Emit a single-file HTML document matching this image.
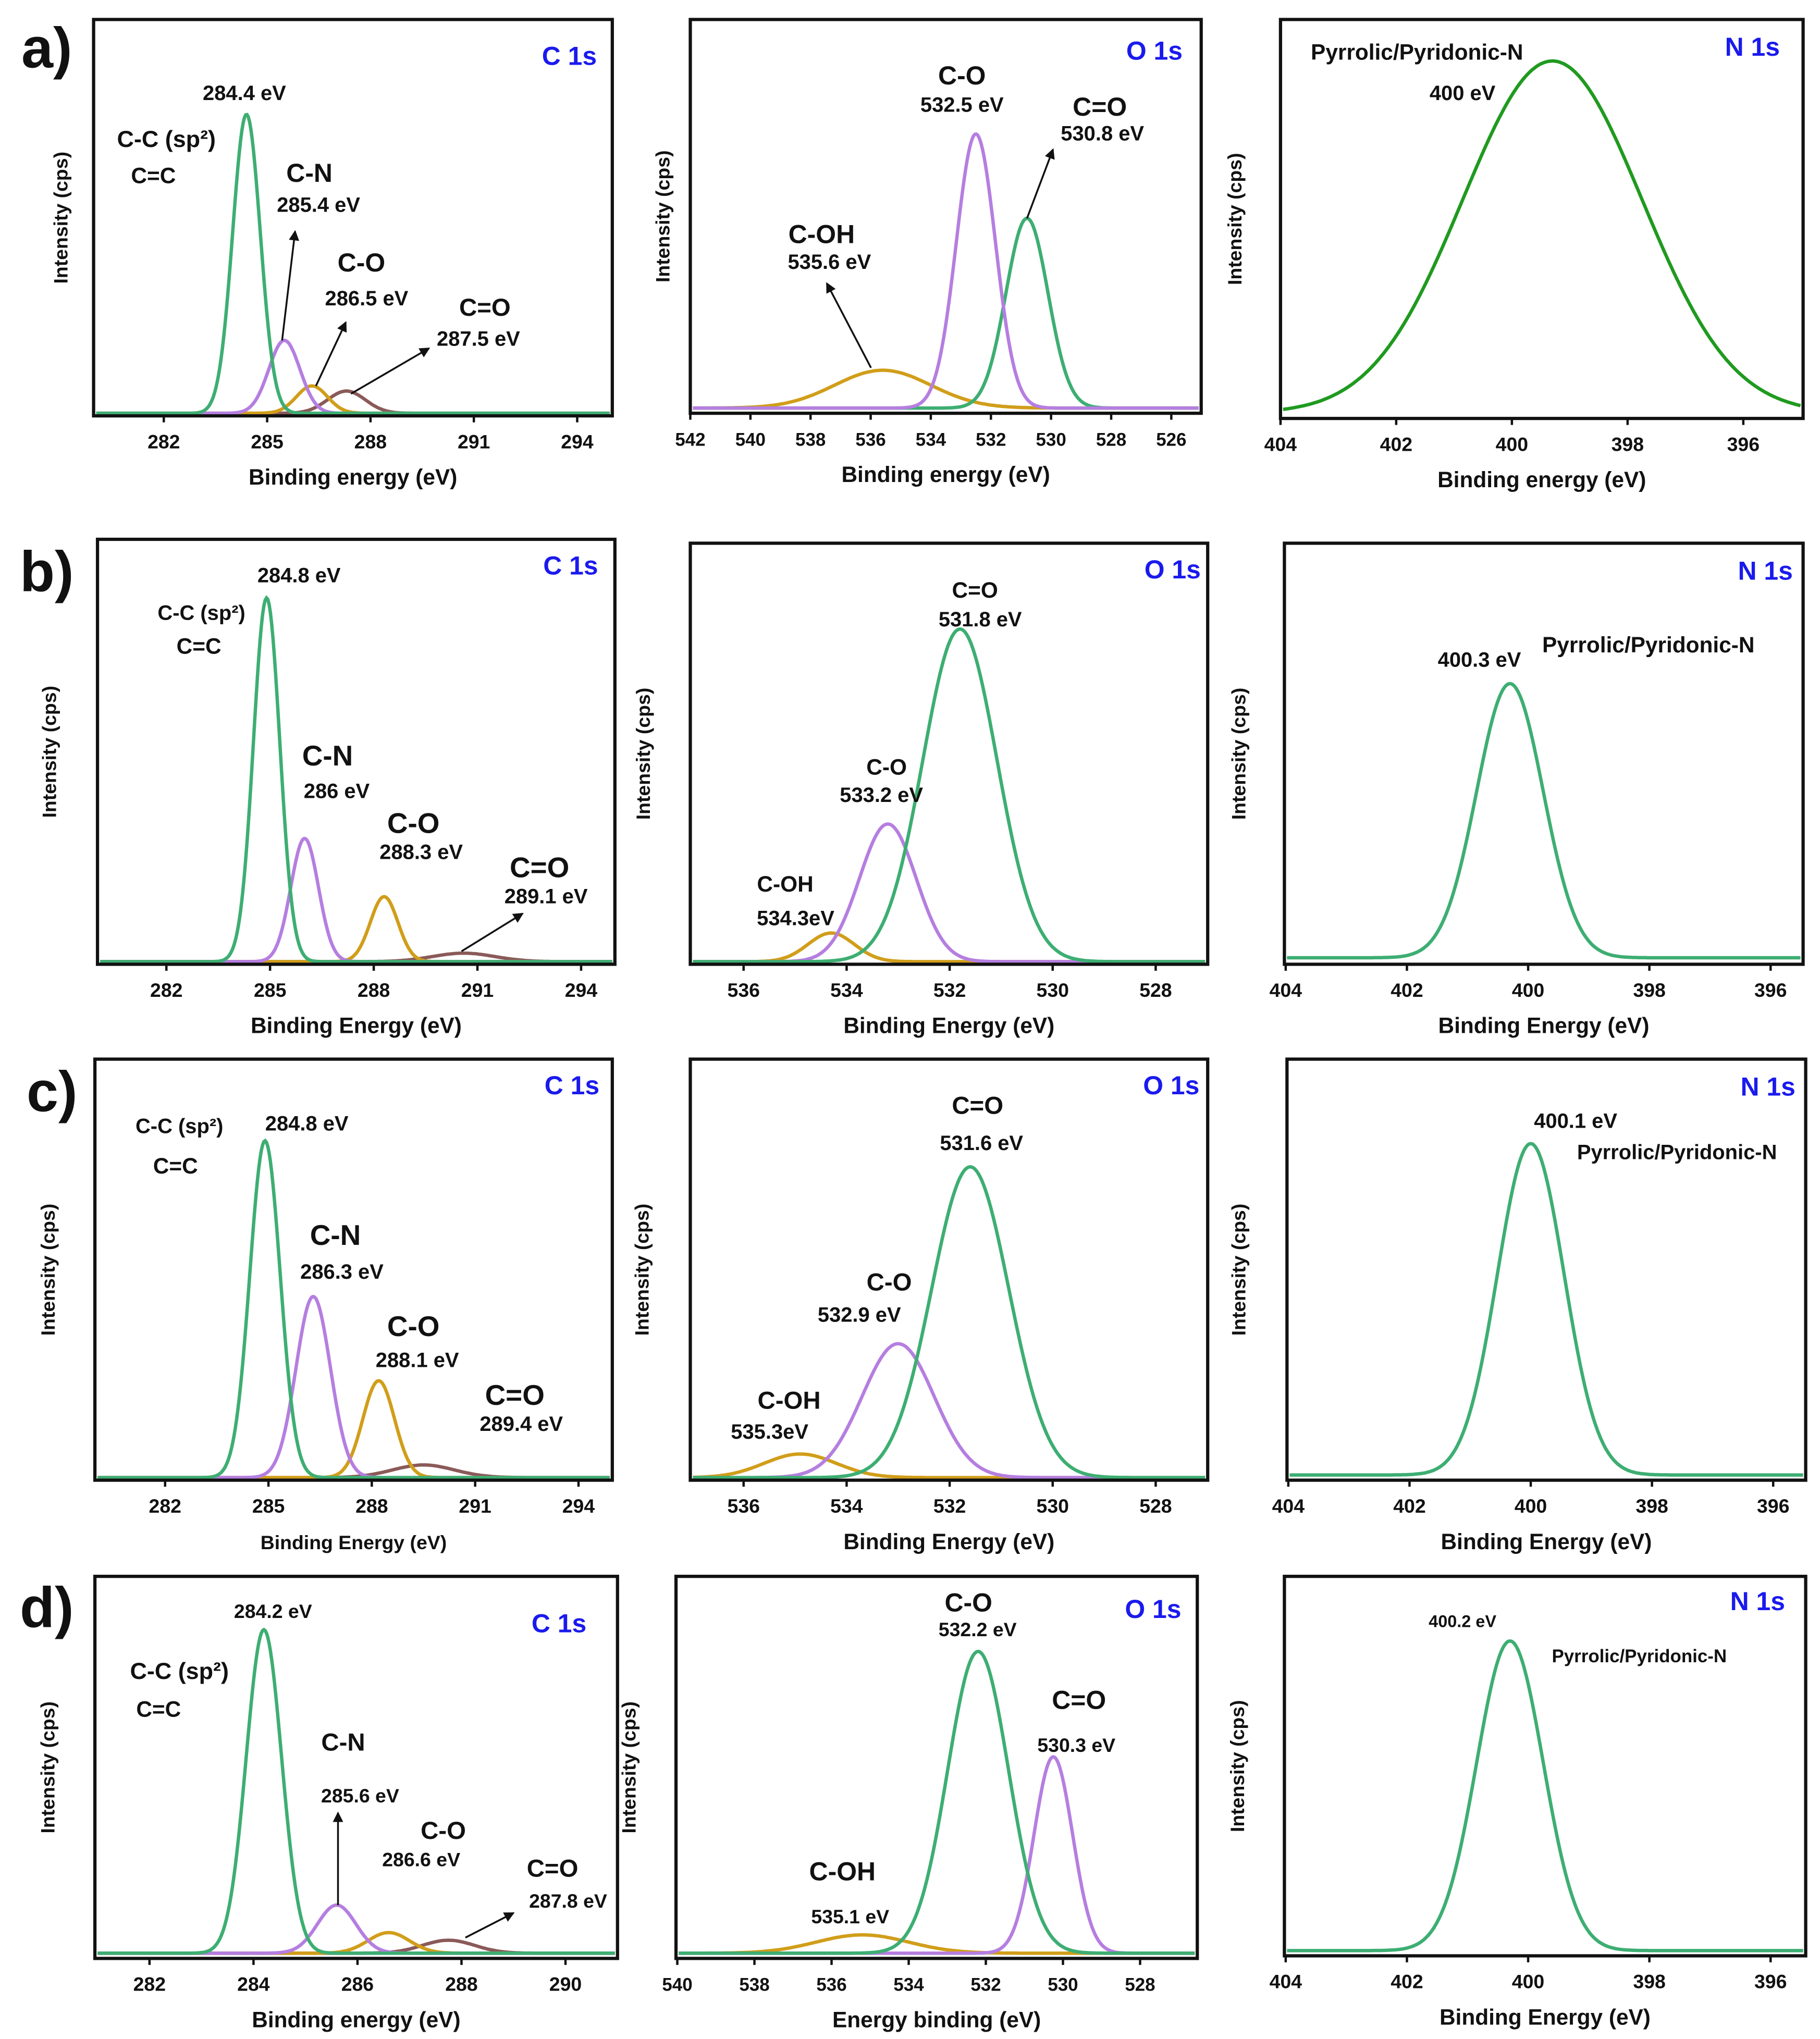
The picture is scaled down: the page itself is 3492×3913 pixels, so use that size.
<!DOCTYPE html>
<html><head><meta charset="utf-8"><style>
html,body{margin:0;padding:0;background:#fff}
svg{display:block}
text{font-family:"Liberation Sans",sans-serif;font-weight:bold}
</style></head><body>
<svg id="fig" width="3492" height="3913" viewBox="0 0 1400 1569" preserveAspectRatio="none" xmlns="http://www.w3.org/2000/svg"></svg>
<script>
// ---- data: peak centers (eV), amplitudes (fraction of plot height), widths (sigma, eV)
const a1Centers=[284.4,285.5,286.3,287.3], a1Amps=[0.754,0.184,0.069,0.056], a1Sigmas=[0.40,0.45,0.45,0.55];
const a2Centers=[532.5,530.8,535.6], a2Amps=[0.696,0.482,0.096], a2Sigmas=[0.65,0.70,1.6];
const a3Centers=[399.3], a3Amps=[0.883], a3Sigmas=[1.55];
const b1Centers=[284.9,286.0,288.3,290.6], b1Amps=[0.856,0.29,0.153,0.02], b1Sigmas=[0.38,0.40,0.40,0.9];
const b2Centers=[531.8,533.2,534.3], b2Amps=[0.79,0.327,0.068], b2Sigmas=[0.72,0.55,0.45];
const b3Centers=[400.3], b3Amps=[0.651], b3Sigmas=[0.55];
const c1Centers=[284.9,286.3,288.2,289.5], c1Amps=[0.80,0.43,0.23,0.03], c1Sigmas=[0.44,0.50,0.46,0.9];
const c2Centers=[531.6,533.0,534.9], c2Amps=[0.738,0.318,0.056], c2Sigmas=[0.75,0.70,0.70];
const c3Centers=[400.0], c3Amps=[0.787], c3Sigmas=[0.55];
const d1Centers=[284.2,285.6,286.6,287.75], d1Amps=[0.847,0.126,0.054,0.034], d1Sigmas=[0.34,0.37,0.40,0.5];
const d2Centers=[532.2,530.25,535.2], d2Amps=[0.79,0.514,0.048], d2Sigmas=[0.79,0.50,1.2];
const d3Centers=[400.3], d3Amps=[0.816], d3Sigmas=[0.55];
const cTicks1=[282,285,288,291,294], oTicksA=[542,540,538,536,534,532,530,528,526], oTicksBC=[536,534,532,530,528];
const nTicks=[404,402,400,398,396], cTicksD=[282,284,286,288,290], oTicksD=[540,538,536,534,532,530,528];

const G='#3dae72',P='#b57ee0',O='#d19e1a',B='#8a5a58',DG='#1f9a1f';
const panels=[
 {id:'a1',x0:72,x1:471,y0:15,y1:320,base:318,e0:282,p0:126,e1:294,p1:444,ticks:cTicks1,c:a1Centers,a:a1Amps,s:a1Sigmas,col:[G,P,O,B],xl:'Binding energy (eV)',yl:52},
 {id:'a2',x0:531,x1:924,y0:15,y1:318,base:314,e0:542,p0:531,e1:526,p1:901,ticks:oTicksA,c:a2Centers,a:a2Amps,s:a2Sigmas,col:[P,G,O],xl:'Binding energy (eV)',yl:515,fs:14},
 {id:'a3',x0:985,x1:1387,y0:15,y1:322,base:318,e0:404,p0:985,e1:396,p1:1341,ticks:nTicks,c:a3Centers,a:a3Amps,s:a3Sigmas,col:[DG],xl:'Binding energy (eV)',yl:955},
 {id:'b1',x0:75,x1:473,y0:415,y1:742,base:740,e0:282,p0:128,e1:294,p1:447,ticks:cTicks1,c:b1Centers,a:b1Amps,s:b1Sigmas,col:[G,P,O,B],xl:'Binding Energy (eV)',yl:43},
 {id:'b2',x0:531,x1:929,y0:418,y1:742,base:740,e0:536,p0:572,e1:528,p1:889,ticks:oTicksBC,c:b2Centers,a:b2Amps,s:b2Sigmas,col:[G,P,O],xl:'Binding Energy (eV)',yl:500},
 {id:'b3',x0:988,x1:1387,y0:418,y1:742,base:737,e0:404,p0:989,e1:396,p1:1362,ticks:nTicks,c:b3Centers,a:b3Amps,s:b3Sigmas,col:[G],xl:'Binding Energy (eV)',yl:958},
 {id:'c1',x0:73,x1:471,y0:815,y1:1139,base:1137,e0:282,p0:127,e1:294,p1:445,ticks:cTicks1,c:c1Centers,a:c1Amps,s:c1Sigmas,col:[G,P,O,B],xl:'Binding Energy (eV)',yl:42,xfs:15},
 {id:'c2',x0:531,x1:929,y0:815,y1:1139,base:1137,e0:536,p0:572,e1:528,p1:889,ticks:oTicksBC,c:c2Centers,a:c2Amps,s:c2Sigmas,col:[G,P,O],xl:'Binding Energy (eV)',yl:499},
 {id:'c3',x0:990,x1:1389,y0:815,y1:1139,base:1135,e0:404,p0:991,e1:396,p1:1364,ticks:nTicks,c:c3Centers,a:c3Amps,s:c3Sigmas,col:[G],xl:'Binding Energy (eV)',yl:958},
 {id:'d1',x0:73,x1:475,y0:1213,y1:1507,base:1503,e0:282,p0:115,e1:290,p1:435,ticks:cTicksD,c:d1Centers,a:d1Amps,s:d1Sigmas,col:[G,P,O,B],xl:'Binding energy (eV)',yl:42},
 {id:'d2',x0:520,x1:921,y0:1213,y1:1507,base:1503,e0:540,p0:521,e1:528,p1:877,ticks:oTicksD,c:d2Centers,a:d2Amps,s:d2Sigmas,col:[G,P,O],xl:'Energy binding (eV)',yl:489,fs:14},
 {id:'d3',x0:988,x1:1389,y0:1213,y1:1505,base:1501,e0:404,p0:989,e1:396,p1:1362,ticks:nTicks,c:d3Centers,a:d3Amps,s:d3Sigmas,col:[G],xl:'Binding Energy (eV)',yl:957}
];
// labels: [text, x, y, size, color]
const BL='#1a1aee';
const labels={
 a1:[['a)',36,52,44],['C 1s',438,50,20,BL],['284.4 eV',188,77,16],['C-C (sp²)',128,113,18],['C=C',118,141,17],['C-N',238,140,20],['285.4 eV',245,163,16],['C-O',278,209,20],['286.5 eV',282,235,16],['C=O',373,243,19],['287.5 eV',368,266,16]],
 a2:[['O 1s',888,46,20,BL],['C-O',740,65,20],['532.5 eV',740,86,16],['C=O',846,89,20],['530.8 eV',848,108,16],['C-OH',632,187,20],['535.6 eV',638,207,16]],
 a3:[['N 1s',1348,43,20,BL],['Pyrrolic/Pyridonic-N',1090,46,17],['400 eV',1125,77,16]],
 b1:[['b)',36,455,44],['C 1s',439,442,20,BL],['284.8 eV',230,448,16],['C-C (sp²)',155,477,16],['C=C',153,503,17],['C-N',252,589,22],['286 eV',259,614,16],['C-O',318,641,22],['288.3 eV',324,661,16],['C=O',415,675,22],['289.1 eV',420,695,16]],
 b2:[['O 1s',902,445,20,BL],['C=O',750,460,17],['531.8 eV',754,482,16],['C-O',682,596,17],['533.2 eV',678,617,16],['C-OH',604,686,17],['534.3eV',612,712,16]],
 b3:[['N 1s',1358,446,20,BL],['400.3 eV',1138,513,16],['Pyrrolic/Pyridonic-N',1268,502,17]],
 c1:[['c)',40,855,44],['C 1s',440,842,20,BL],['C-C (sp²)',138,872,16],['284.8 eV',236,870,16],['C=C',135,903,17],['C-N',258,958,22],['286.3 eV',263,984,16],['C-O',318,1028,22],['288.1 eV',321,1052,16],['C=O',396,1081,22],['289.4 eV',401,1101,16]],
 c2:[['O 1s',901,842,20,BL],['C=O',752,857,19],['531.6 eV',755,885,16],['C-O',684,993,19],['532.9 eV',661,1017,16],['C-OH',607,1084,19],['535.3eV',592,1107,16]],
 c3:[['N 1s',1360,843,20,BL],['400.1 eV',1212,868,16],['Pyrrolic/Pyridonic-N',1290,892,16]],
 d1:[['d)',36,1252,44],['C 1s',430,1256,20,BL],['284.2 eV',210,1245,15],['C-C (sp²)',138,1292,18],['C=C',122,1321,17],['C-N',264,1347,19],['285.6 eV',277,1387,15],['C-O',341,1415,19],['286.6 eV',324,1436,15],['C=O',425,1444,19],['287.8 eV',437,1468,15]],
 d2:[['O 1s',887,1245,20,BL],['C-O',745,1240,20],['532.2 eV',752,1259,15],['C=O',830,1315,20],['530.3 eV',828,1348,15],['C-OH',648,1447,20],['535.1 eV',654,1480,15]],
 d3:[['N 1s',1352,1239,20,BL],['400.2 eV',1125,1252,13],['Pyrrolic/Pyridonic-N',1261,1279,14]]
};
const arrows=[[217,262,227,178],[243,297,266,248],[270,303,330,268],[790,168,810,115],[670,283,636,218],[355,732,402,703],[260,1466,260,1395],[358,1491,395,1472]];

const NS='http://www.w3.org/2000/svg';
const svg=document.getElementById('fig');
function mk(tag,attrs,parent){const e=document.createElementNS(NS,tag);for(const k in attrs)e.setAttribute(k,attrs[k]);(parent||svg).appendChild(e);return e;}
const defs=mk('defs',{});
const mkr=mk('marker',{id:'ah',markerWidth:8,markerHeight:8,refX:7,refY:4,orient:'auto',markerUnits:'userSpaceOnUse'},defs);
mk('path',{d:'M0,0 L8,4 L0,8 Z',fill:'#111'},mkr);

panels.forEach(p=>{
  const g=mk('g',{});
  
  
  const sx=e=>p.p0+(e-p.e0)*(p.p1-p.p0)/(p.e1-p.e0);
  const ex=x=>p.e0+(x-p.p0)*(p.e1-p.e0)/(p.p1-p.p0);
  const H=p.y1-p.y0;
  const sy=v=>p.base-v*H;
  for(let i=p.c.length-1;i>=0;i--){
    let d='';
    for(let x=p.x0+2;x<=p.x1-2;x+=1){
      const e=ex(x);const v=p.a[i]*Math.exp(-0.5*Math.pow((e-p.c[i])/p.s[i],2));
      d+=(d?'L':'M')+x.toFixed(1)+','+sy(v).toFixed(1);
    }
    const path=mk('path',{d:d,fill:'none',stroke:p.col[i],'stroke-width':2.6},g);
    
    
  }
  const fr=mk('rect',{x:p.x0,y:p.y0,width:p.x1-p.x0,height:H,fill:'none',stroke:'#111','stroke-width':2.5},g);
  
  
  p.ticks.forEach(t=>{
    const x=sx(t);
    mk('line',{x1:x,y1:p.y1,x2:x,y2:p.y1+5,stroke:'#111','stroke-width':1.8},g);
    const tx=mk('text',{x:x,y:p.y1+25,'text-anchor':'middle','font-size':p.fs||15,style:'fill:#111'},g);
    tx.textContent=t;
    
    
  });
  const xl=mk('text',{x:(p.x0+p.x1)/2,y:p.y1+53,'text-anchor':'middle','font-size':p.xfs||17,style:'fill:#111'},g);
  xl.textContent=p.xl;
  
  
  const cy=(p.y0+p.y1)/2;
  const yl=mk('text',{x:p.yl,y:cy,'text-anchor':'middle','font-size':15,style:'fill:#111',transform:'rotate(-90 '+p.yl+' '+cy+')'},g);
  yl.textContent='Intensity (cps)';
  
  
  (labels[p.id]||[]).forEach(l=>{
    const t=mk('text',{x:l[1],y:l[2],'text-anchor':'middle','font-size':l[3],style:'fill:'+(l[4]||'#111')},g);
    t.textContent=l[0];
    
    
  });
});
arrows.forEach(a=>{
  const l=mk('line',{x1:a[0],y1:a[1],x2:a[2],y2:a[3],stroke:'#111','stroke-width':1.4,'marker-end':'url(#ah)'});
  
  
});
</script>
</body></html>
